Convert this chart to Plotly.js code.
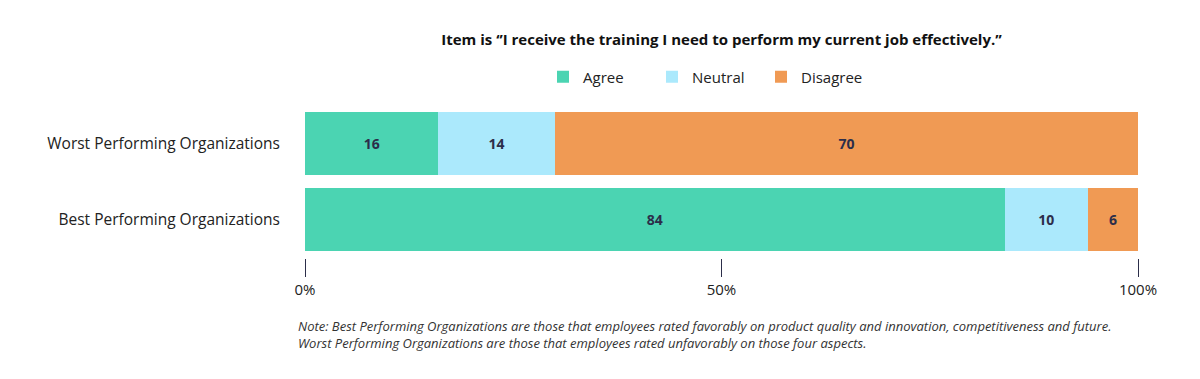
<!DOCTYPE html>
<html>
<head>
<meta charset="utf-8">
<script src="https://cdn.plot.ly/plotly-3.0.1.min.js"></script>
<style>html,body{margin:0;padding:0;background:#fff;}#chart{width:1200px;height:379px;}</style>
</head>
<body>
<div id="chart"></div>
<script>
var categories = ["Worst Performing Organizations", "Best Performing Organizations"];
var seriesNames = ["Agree", "Neutral", "Disagree"];
var agree = [16, 84];
var neutral = [14, 10];
var disagree = [70, 6];
var tickValues = [0, 50, 100];
var tickLabels = ["0%", "50%", "100%"];
var titleText = "Item is \u2018\u2019I receive the training I need to perform my current job effectively.\u2019\u2019";
var noteLines = [
  "Note: Best Performing Organizations are those that employees rated favorably on product quality and innovation, competitiveness and future.",
  "Worst Performing Organizations are those that employees rated unfavorably on those four aspects."
];

var colors = ["#4bd4b2", "#abe9fc", "#f09a54"];
var seriesValues = [agree, neutral, disagree];
var FONT = "Open Sans, sans-serif";
var DARK = "#2c2e4a";

var traces = seriesNames.map(function (name, i) {
  return {
    type: "bar",
    orientation: "h",
    name: name,
    y: categories,
    x: seriesValues[i],
    text: seriesValues[i].map(String),
    textposition: "inside",
    insidetextanchor: "middle",
    textfont: {family: FONT, size: 14, color: DARK, weight: "bold"},
    marker: {color: colors[i], line: {width: 0}},
    hoverinfo: "none"
  };
});

var plotH = 379 - 105 - 121;
function yPaper(px) { return (379 - 121 - px) / plotH; }

var layout = {
  width: 1200,
  height: 379,
  margin: {l: 305, r: 62, t: 105, b: 121},
  barmode: "stack",
  bargap: 0.18,
  paper_bgcolor: "#ffffff",
  plot_bgcolor: "#ffffff",
  font: {family: FONT, color: "#222", size: 15},
  showlegend: true,
  legend: {
    orientation: "h",
    x: 0.482, xanchor: "center",
    y: yPaper(77), yanchor: "middle",
    font: {family: FONT, size: 15, color: "#222"},
    traceorder: "normal",
    itemwidth: 30,
    entrywidth: 64
  },
  title: {
    text: "<b>" + titleText + "</b>",
    x: 0.5, xref: "paper", xanchor: "center",
    y: 1 - 40 / 379, yref: "container", yanchor: "middle",
    font: {family: FONT, size: 15, color: "#111"}
  },
  xaxis: {
    range: [0, 100],
    tickvals: tickValues,
    ticktext: tickLabels,
    ticks: "outside",
    ticklen: 18,
    tickwidth: 1,
    tickcolor: DARK,
    showgrid: false,
    zeroline: false,
    showline: false,
    tickfont: {family: FONT, size: 15, color: "#222"},
    fixedrange: true
  },
  yaxis: {
    autorange: "reversed",
    showgrid: false,
    zeroline: false,
    showline: false,
    ticks: "",
    ticklabelstandoff: 24,
    tickfont: {family: FONT, size: 15.5, color: "#222"},
    fixedrange: true
  },
  annotations: noteLines.map(function (line, i) {
    return {
      text: "<i>" + line + "</i>",
      xref: "paper", yref: "paper",
      x: -0.011, xanchor: "left",
      y: yPaper(326 + i * 17), yanchor: "middle",
      showarrow: false,
      align: "left",
      font: {family: FONT, size: 13, color: "#333"}
    };
  })
};

Plotly.newPlot("chart", traces, layout, {displayModeBar: false, staticPlot: true});
</script>
</body>
</html>
